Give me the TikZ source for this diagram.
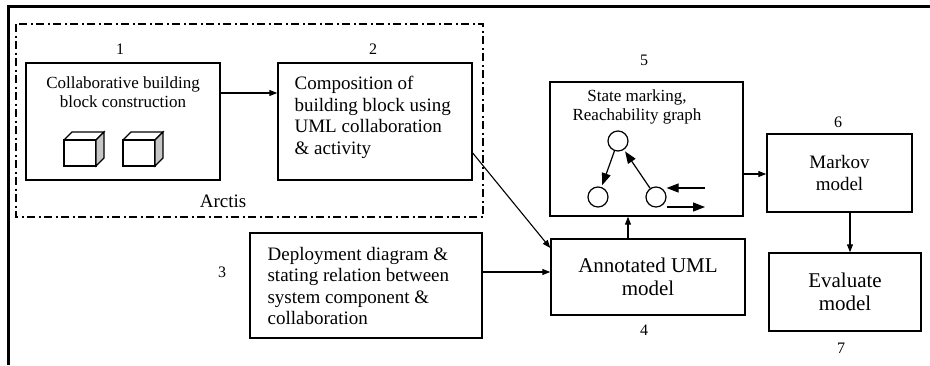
\documentclass[tikz,border=0pt]{standalone}
\usepackage{fontspec}
\setmainfont{Liberation Serif}
\usetikzlibrary{arrows.meta}

\begin{document}
\begin{tikzpicture}[x=1pt, y=-1pt, line width=1.2pt,
  blk/.style={draw, line width=1.4pt, inner sep=0pt, align=center},
  arr/.style={-{Triangle[length=8pt, width=6pt]}, line width=1.1pt},
  bigarr/.style={-{Triangle[length=12pt, width=9pt]}, line width=1.2pt},
  state/.style={draw, circle, minimum size=20pt, inner sep=0pt, line width=1.2pt},
  txs/.style={font=\fontsize{17}{19}\selectfont},
  txm/.style={font=\fontsize{19}{21.5}\selectfont},
  txl/.style={font=\fontsize{21}{23.5}\selectfont},
  num/.style={font=\fontsize{16}{18}\selectfont}]

  \useasboundingbox (0,0) rectangle (930,365);

  % -- Outer frame --
  \draw[line width=3pt] (8.5,365) -- (8.5,6) -- (930,6);

  % -- Arctis group --
  \draw[dash pattern=on 8pt off 3.5pt on 2pt off 3.5pt] (16,24) rectangle (483,217);
  \node[txm] (arctis) at (223,201) {Arctis};

  % -- Building block construction --
  \node[num] (n1) at (120,49) {1};
  \node[blk, minimum width=194pt, minimum height=117pt] (b1) at (123,121.5) {};
  \node[txs, align=center] (t1) at (123,92.5) {Collaborative building\\block construction};
  \foreach \cx in {64,123} {
    \draw (\cx,140) rectangle (\cx+32,166);
    \draw (\cx,140) -- (\cx+8,132) -- (\cx+40,132) -- (\cx+32,140);
    \draw[fill=gray!45] (\cx+32,140) -- (\cx+40,132) -- (\cx+40,158) -- (\cx+32,166) -- cycle;
  }

  % -- Composition --
  \node[num] (n2) at (373,49) {2};
  \node[blk, minimum width=194pt, minimum height=117pt] (b2) at (375,121.5) {};
  \node[txm, align=left, anchor=west, inner sep=0pt] (t2) at (294,117.5)
    {Composition of\\building block using\\UML collaboration\\\& activity};

  % -- Deployment --
  \node[num] (n3) at (222,272) {3};
  \node[blk, minimum width=232pt, minimum height=105pt] (b3) at (366,285.5) {};
  \node[txm, align=left, anchor=west, inner sep=0pt] (t3) at (267,286)
    {Deployment diagram \&\\stating relation between\\system component \&\\collaboration};

  % -- Annotated model --
  \node[blk, txl, minimum width=194pt, minimum height=76pt] (b4) at (648,277) {Annotated UML\\model};
  \node[num] (n4) at (644,330) {4};

  % -- Reachability graph --
  \node[num] (n5) at (644,60) {5};
  \node[blk, minimum width=193pt, minimum height=134pt] (b5) at (646.5,149) {};
  \node[txs, align=center] (t5) at (637,107) {State marking,\\Reachability graph};
  \node[state] (s1) at (618,141) {};
  \node[state] (s2) at (598,197) {};
  \node[state] (s3) at (656,197) {};
  \draw[bigarr, shorten >=2pt] (s1) -- (s2);
  \draw[bigarr, shorten >=2pt] (s3) -- (s1);
  \coordinate (inR) at (705,188);
  \coordinate (outR) at (705,207);
  \draw[bigarr] (inR) -- (inR -| s3.east);
  \draw[bigarr] (outR -| s3.east) -- (outR);

  % -- Markov and evaluation --
  \node[num] (n6) at (838,122) {6};
  \node[blk, txm, minimum width=145pt, minimum height=78pt] (b6) at (839.5,173) {Markov\\model};
  \node[blk, txl, minimum width=152pt, minimum height=78pt] (b7) at (845,292) {Evaluate\\model};
  \node[num] (n7) at (841,348) {7};

  % -- Flow --
  \draw[arr] ([yshift=28.5pt]b1.east) coordinate (p12) -- (b2.west |- p12);
  \draw[arr] ([yshift=-31.5pt]b2.east) -- ([yshift=29pt]b4.west);
  \draw[arr] ([yshift=13.5pt]b3.east) coordinate (p34) -- (b4.west |- p34);
  \draw[arr] ([xshift=-20pt]b4.north) coordinate (p45) -- (b5.south -| p45);
  \draw[arr] ([yshift=-25pt]b5.east) coordinate (p56) -- (b6.west |- p56);
  \draw[arr] ([xshift=10.5pt]b6.south) coordinate (p67) -- (b7.north -| p67);

\end{tikzpicture}
\end{document}
